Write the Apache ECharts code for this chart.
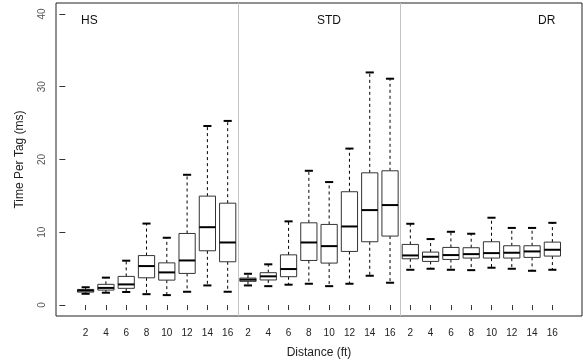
<!DOCTYPE html>
<html>
<head>
<meta charset="utf-8">
<script src="https://cdn.jsdelivr.net/npm/echarts@6/dist/echarts.min.js"></script>
<style>
  html, body { margin: 0; padding: 0; background: #fff; }
  #chart { width: 583px; height: 364px; }
</style>
</head>
<body>
<div id="chart"></div>
<script>
// distances (ft) repeated for each reader mode
const distances = [2, 4, 6, 8, 10, 12, 14, 16];
const groups = ["HS", "STD", "DR"];

// box stats per distance: [lower whisker, Q1, median, Q3, upper whisker]
const hsStats = [
  [1.55, 1.78, 2.0, 2.15, 2.45],
  [1.7, 2.06, 2.36, 2.85, 3.77],
  [1.8, 2.3, 2.84, 3.94, 6.1],
  [1.5, 3.75, 5.36, 6.8, 11.2],
  [1.37, 3.43, 4.49, 5.8, 9.25],
  [1.83, 4.35, 6.13, 9.84, 17.9],
  [2.7, 7.46, 10.7, 14.97, 24.6],
  [1.83, 5.95, 8.6, 14.0, 25.3]
];
const stdStats = [
  [2.7, 3.26, 3.49, 3.71, 4.3],
  [2.6, 3.45, 3.95, 4.45, 5.6],
  [2.8, 3.9, 4.95, 6.9, 11.5],
  [2.93, 6.13, 8.6, 11.3, 18.45],
  [2.6, 5.77, 8.1, 11.08, 16.9],
  [2.93, 7.37, 10.8, 15.57, 21.5],
  [4.03, 8.7, 13.05, 18.17, 31.96],
  [3.07, 9.48, 13.74, 18.45, 31.1]
];
const drStats = [
  [4.85, 6.36, 6.82, 8.33, 11.17],
  [4.99, 6.0, 6.64, 7.28, 9.07],
  [4.85, 6.27, 6.87, 7.92, 10.07],
  [4.8, 6.46, 7.0, 7.88, 9.8],
  [5.13, 6.46, 7.14, 8.7, 12.0],
  [4.99, 6.46, 7.19, 8.15, 10.6],
  [4.71, 6.55, 7.37, 8.15, 10.6],
  [4.85, 6.73, 7.6, 8.65, 11.3]
];
const yTicks = [0, 10, 20, 30, 40];

let boxData = [];
[hsStats, stdStats, drStats].forEach((stats, g) => {
  stats.forEach((s, i) => {
    boxData.push([g * distances.length + i + 1].concat(s));
  });
});
let xTicks = boxData.map((d) => d[0]);

function renderBox(params, api) {
  let x = api.value(0);
  let low = api.coord([x, api.value(1)]);
  let q1 = api.coord([x, api.value(2)]);
  let med = api.coord([x, api.value(3)]);
  let q3 = api.coord([x, api.value(4)]);
  let high = api.coord([x, api.value(5)]);
  let halfW = api.size([0.8, 0])[0] / 2;
  let capW = halfW / 2;
  let cx = low[0];
  let dash = { stroke: "#000", lineWidth: 1, lineDash: [3, 3] };
  let cap = { stroke: "#000", lineWidth: 2 };
  return {
    type: "group",
    children: [
      { type: "line", shape: { x1: cx, y1: q3[1], x2: cx, y2: high[1] }, style: dash },
      { type: "line", shape: { x1: cx, y1: q1[1], x2: cx, y2: low[1] }, style: dash },
      { type: "line", shape: { x1: cx - capW, y1: high[1], x2: cx + capW, y2: high[1] }, style: cap },
      { type: "line", shape: { x1: cx - capW, y1: low[1], x2: cx + capW, y2: low[1] }, style: cap },
      {
        type: "rect",
        shape: { x: cx - halfW, y: q3[1], width: halfW * 2, height: q1[1] - q3[1] },
        style: { fill: "#fff", stroke: "#333", lineWidth: 1 },
      },
      { type: "line", shape: { x1: cx - halfW, y1: med[1], x2: cx + halfW, y2: med[1] }, style: { stroke: "#000", lineWidth: 2 } },
    ],
  };
}

let myChart = echarts.init(document.getElementById("chart"));
myChart.setOption({
  animation: false,
  textStyle: { fontFamily: "Liberation Sans, Arial, sans-serif" },
  grid: {
    left: 56,
    right: 1,
    top: 3,
    bottom: 48,
    show: true,
    borderColor: "#222",
    borderWidth: 1,
  },
  xAxis: {
    type: "value",
    min: -0.46,
    max: 25.46,
    name: "Distance (ft)",
    nameLocation: "middle",
    nameGap: 31,
    nameTextStyle: { fontSize: 12, color: "#222" },
    axisLine: { show: false },
    splitLine: { show: false },
    axisTick: { show: true, length: 5, customValues: xTicks, lineStyle: { color: "#333" } },
    axisLabel: {
      customValues: xTicks,
      fontSize: 10,
      color: "#222",
      margin: 12,
      formatter: (v) => String(distances[(Math.round(v) - 1) % distances.length]),
    },
  },
  yAxis: {
    type: "value",
    min: -1.5,
    max: 41.5,
    name: "Time Per Tag (ms)",
    nameLocation: "middle",
    nameGap: 30,
    nameTextStyle: { fontSize: 12, color: "#222" },
    axisLine: { show: false },
    splitLine: { show: false },
    axisTick: { show: true, length: 6, customValues: yTicks, lineStyle: { color: "#333" } },
    axisLabel: {
      customValues: yTicks,
      rotate: 90,
      fontSize: 10,
      color: "#555",
      margin: 9,
    },
  },
  graphic: [
    { type: "text", left: 81, top: 15, style: { text: groups[0], fontSize: 12, fill: "#111", fontFamily: "Liberation Sans" } },
    { type: "text", left: 317, top: 15, style: { text: groups[1], fontSize: 12, fill: "#111", fontFamily: "Liberation Sans" } },
    { type: "text", left: 538, top: 15, style: { text: groups[2], fontSize: 12, fill: "#111", fontFamily: "Liberation Sans" } },
  ],
  series: [
    {
      type: "custom",
      renderItem: renderBox,
      data: boxData,
      encode: { x: 0, y: [1, 2, 3, 4, 5] },
      markLine: {
        silent: true,
        symbol: "none",
        label: { show: false },
        lineStyle: { color: "#c4c4c4", type: "solid", width: 1 },
        data: [{ xAxis: 8.5 }, { xAxis: 16.5 }],
      },
    },
  ],
});
window.addEventListener("resize", function () {
  myChart.resize();
});
</script>
</body>
</html>
